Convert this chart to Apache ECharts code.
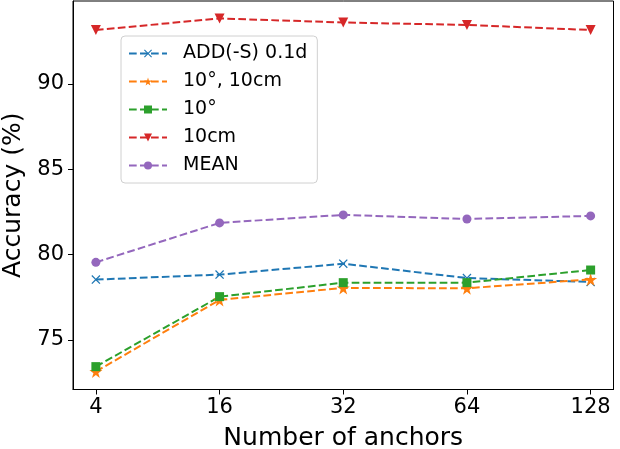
<!DOCTYPE html>
<html>
<head>
<meta charset="utf-8">
<script src="https://cdn.jsdelivr.net/npm/echarts@6/dist/echarts.min.js"></script>
<style>
  html, body { margin: 0; padding: 0; background: #fff; }
  #chart_1 { width: 620px; height: 449px; }
</style>
</head>
<body>
<div id="chart_1"></div>
<script>
// data
var anchors = ['4', '16', '32', '64', '128'];
var addS = [78.54, 78.83, 79.47, 78.63, 78.40];
var degCm = [73.15, 77.35, 78.05, 78.03, 78.55];
var deg = [73.44, 77.54, 78.36, 78.36, 79.10];
var cm = [93.16, 93.84, 93.60, 93.46, 93.16];
var mean = [79.55, 81.86, 82.33, 82.09, 82.27];
var yTicks = [75, 80, 85, 90];

var font = 'DejaVu Sans';
var xPath = 'path://M0,1 L1,0 L5,4 L9,0 L10,1 L6,5 L10,9 L9,10 L5,6 L1,10 L0,9 L4,5 Z';
var starPath = 'path://M50,0 L61,35 L98,35 L68,57 L79,91 L50,70 L21,91 L32,57 L2,35 L39,35 Z';

function pairs(arr) {
    return arr.map(function (v, i) { return [i, v]; });
}

function line(name, values, color, symbol, size, rotate) {
    return {
        name: name,
        type: 'line',
        data: pairs(values),
        symbol: symbol,
        symbolSize: size,
        symbolRotate: rotate || 0,
        showAllSymbol: true,
        lineStyle: { color: color, width: 2, type: [7.7, 3.3] },
        itemStyle: { color: color, borderWidth: 0 },
        emphasis: { disabled: true },
        animation: false
    };
}

var myChart = echarts.init(document.getElementById('chart_1'));
var option = {
    backgroundColor: '#fff',
    textStyle: { fontFamily: font },
    grid: {
        left: 73, right: 6.5, top: 1, bottom: 59.5,
        outerBoundsMode: 'none',
        containLabel: false,
        show: true, borderColor: '#000', borderWidth: 1
    },
    legend: {
        orient: 'vertical',
        left: 121, top: 36,
        padding: [8, 10, 8, 7],
        itemWidth: 38, itemHeight: 10, itemGap: 9,
        borderColor: '#d0d0d0', borderWidth: 1, borderRadius: 4,
        backgroundColor: 'rgba(255,255,255,0.8)',
        textStyle: { fontFamily: font, fontSize: 19, color: '#000', padding: [0, 0, 0, 11] },
        data: ['ADD(-S) 0.1d', '10°, 10cm', '10°', '10cm', 'MEAN']
    },
    xAxis: {
        type: 'value',
        min: -0.185, max: 4.185,
        name: 'Number of anchors',
        nameLocation: 'middle',
        nameGap: 36,
        nameTextStyle: { fontFamily: font, fontSize: 25, color: '#000' },
        axisLine: { show: true, onZero: false, lineStyle: { color: '#000', width: 1 } },
        axisTick: { show: true, length: 5, lineStyle: { color: '#000' }, customValues: [0, 1, 2, 3, 4] },
        axisLabel: {
            fontFamily: font, fontSize: 21, color: '#000', margin: 8,
            customValues: [0, 1, 2, 3, 4],
            formatter: function (v) { return anchors[Math.round(v)]; }
        },
        splitLine: { show: false }
    },
    yAxis: {
        type: 'value',
        min: 72.1, max: 94.86,
        name: 'Accuracy (%)',
        nameLocation: 'middle',
        nameGap: 41,
        nameTextStyle: { fontFamily: font, fontSize: 25, color: '#000' },
        axisLine: { show: true, onZero: false, lineStyle: { color: '#000', width: 1 } },
        axisTick: { show: true, length: 5, lineStyle: { color: '#000' }, customValues: yTicks },
        axisLabel: {
            fontFamily: font, fontSize: 21, color: '#000', margin: 9,
            customValues: yTicks
        },
        splitLine: { show: false }
    },
    series: [
        line('ADD(-S) 0.1d', addS, '#1f77b4', xPath, 9),
        line('10°, 10cm', degCm, '#ff7f0e', starPath, 13),
        line('10°', deg, '#2ca02c', 'rect', 9),
        line('10cm', cm, '#d62728', 'triangle', 10, 180),
        line('MEAN', mean, '#9467bd', 'circle', 9)
    ]
};

if (option && typeof option === 'object')
    myChart.setOption(option);
window.addEventListener("resize", function () {
    myChart.resize();
});
</script>
</body>
</html>
